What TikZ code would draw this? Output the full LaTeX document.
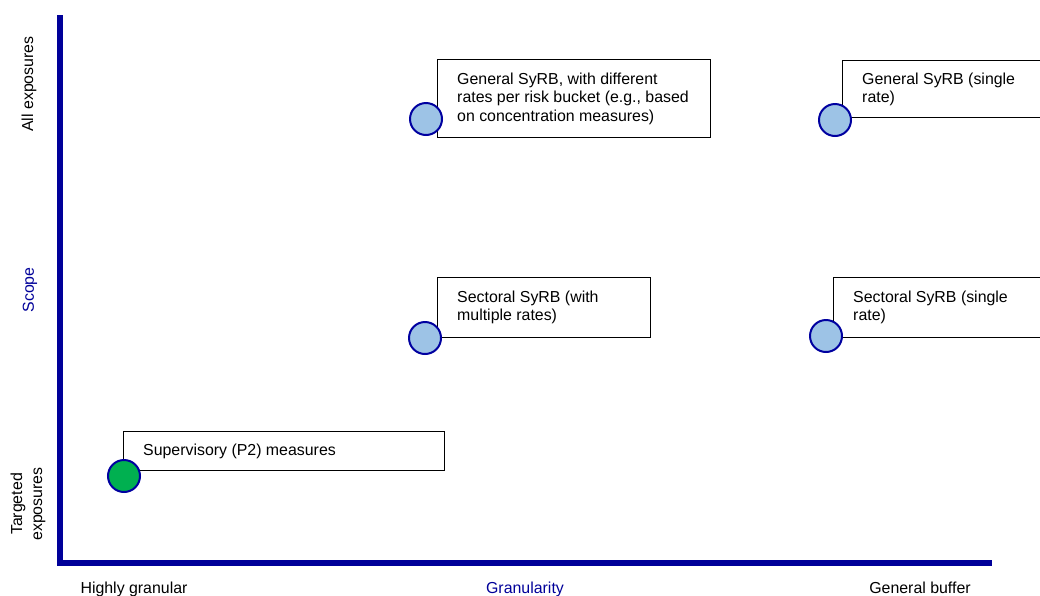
\documentclass[tikz,border=0pt]{standalone}
\usepackage{fontspec}
\setmainfont{Liberation Sans}
\usetikzlibrary{calc}
\definecolor{axisblue}{RGB}{0,0,153}
\definecolor{dotblue}{RGB}{157,195,230}
\definecolor{dotgreen}{RGB}{0,176,80}
\definecolor{dotedge}{RGB}{0,0,160}
\begin{document}
\begin{tikzpicture}[x=1pt,y=-1pt,
  box/.style={draw=black,line width=1.3pt,fill=white,rectangle,inner sep=0pt,anchor=north west},
  txt/.style={anchor=west,align=left,inner sep=0pt,font=\fontsize{15.9}{18.4}\selectfont},
  dot/.style={circle,draw=dotedge,line width=2pt,minimum size=32pt,inner sep=0pt},
  axlab/.style={inner sep=0pt,font=\fontsize{15.9}{18}\selectfont,anchor=base},
  vlab/.style={inner sep=0pt,font=\fontsize{15.9}{20}\selectfont,align=center,rotate=90},
  axis/.style={draw=axisblue,line width=6pt}]
\useasboundingbox (0,0) rectangle (1040,595);
\clip (0,0) rectangle (1040,595);
% axes
\coordinate (top) at (60,15);
\coordinate (origin) at (60,563);
\coordinate (right) at (992,563);
\draw[axis] (top) -- (origin) -- (right);
% axis labels
\node[vlab] (allexp) at (29,84) {All exposures};
\node[vlab,text=axisblue] (scope) at (30,290) {Scope};
\node[vlab] (targeted) at (28,504) {Targeted\\exposures};
\node[axlab] (highly) at (134,593) {Highly granular};
\node[axlab,text=axisblue] (gran) at (525,593) {Granularity};
\node[axlab] (general) at (920,593) {General buffer};
% box 1
\node[box,minimum width=273pt,minimum height=78pt] (b1) at (437,59) {};
\node[txt] (t1) at ($(b1.west)+(20,0)$) {General SyRB, with different\\rates per risk bucket (e.g., based\\on concentration measures)};
\node[dot,fill=dotblue] (c1) at (426,119) {};
% box 2
\node[box,minimum width=220pt,minimum height=57pt] (b2) at (842,60) {};
\node[txt] (t2) at ($(b2.west)+(20,0)$) {General SyRB (single\\rate)};
\node[dot,fill=dotblue] (c2) at (835,120) {};
% box 3
\node[box,minimum width=213pt,minimum height=60pt] (b3) at (437,277) {};
\node[txt] (t3) at ($(b3.west)+(20,0)$) {Sectoral SyRB (with\\multiple rates)};
\node[dot,fill=dotblue] (c3) at (425,338) {};
% box 4
\node[box,minimum width=220pt,minimum height=60pt] (b4) at (833,277) {};
\node[txt] (t4) at ($(b4.west)+(20,0)$) {Sectoral SyRB (single\\rate)};
\node[dot,fill=dotblue] (c4) at (826,336) {};
% box 5
\node[box,minimum width=321pt,minimum height=39pt] (b5) at (123,431) {};
\node[txt] (t5) at ($(b5.west)+(20,0)$) {Supervisory (P2) measures};
\node[dot,fill=dotgreen] (c5) at (124,476) {};
\end{tikzpicture}
\end{document}
